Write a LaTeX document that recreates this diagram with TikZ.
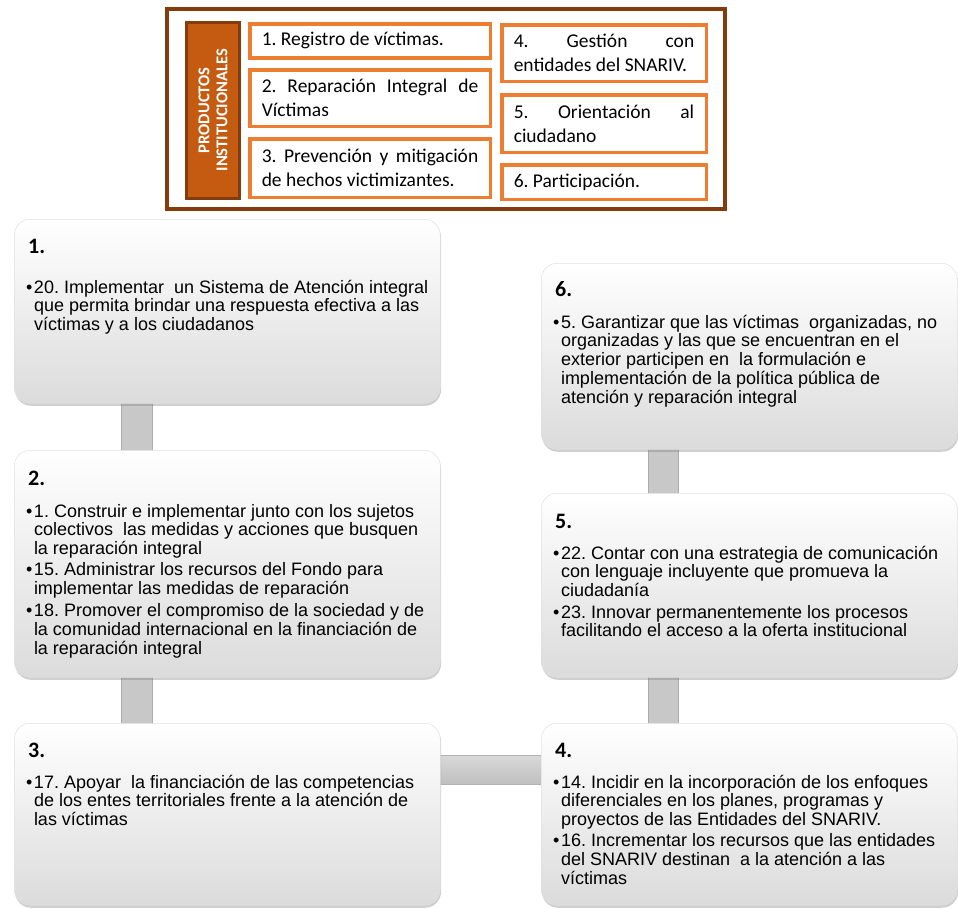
\documentclass[tikz,border=0pt]{standalone}
\usepackage{fontspec}
\setmainfont{Liberation Sans}
\newfontfamily\calfont{Carlito}
\usetikzlibrary{shadows,backgrounds}

\definecolor{frbrown}{RGB}{132,60,12}
\definecolor{porange}{RGB}{237,125,49}
\definecolor{barfill}{RGB}{197,90,17}
\definecolor{lnkgray}{RGB}{200,200,200}
\definecolor{lnkedge}{RGB}{172,172,172}

\hyphenpenalty=10000
\exhyphenpenalty=10000
\tolerance=9999
\frenchspacing

% bullet list, second lines hang under the text
\newcommand{\blist}[1]{\begin{tabular}[t]{@{}l@{\hspace{1.5pt}}l@{}}#1\end{tabular}}

\begin{document}
\begin{tikzpicture}[
  x=1pt, y=-1pt,
  pbox/.style={draw=porange, line width=3.5pt, fill=white, anchor=north west, align=justify,
    inner xsep=12pt, inner ysep=0pt, font=\calfont\fontsize{19.5}{24}\selectfont},
  lbox/.style={pbox, text width=216.5pt, minimum width=240.5pt},
  rbox/.style={pbox, text width=180.5pt, minimum width=204.5pt},
  obox/.style={rounded corners=16pt, top color=white, middle color=black!3,
    bottom color=black!14, draw=black!12, line width=0.5pt, anchor=north west,
    inner sep=0pt, drop shadow={shadow xshift=0.8pt, shadow yshift=-2.5pt, opacity=0.38}},
  ttl/.style={anchor=base west, inner sep=0pt, font=\calfont\bfseries\fontsize{22}{24}\selectfont},
  txt/.style={anchor=base west, inner sep=0pt, font=\fontsize{18}{18.5}\selectfont},
  lnk/.style={fill=lnkgray, draw=lnkedge, line width=0.8pt},
]
\useasboundingbox (0,0) rectangle (958,908);

% products frame
\node [draw=frbrown, line width=3.5pt, anchor=north west, inner sep=0pt,
  minimum width=558pt, minimum height=200pt] (frm) at (165,7) {};
\node [draw=frbrown, fill=barfill, line width=3pt, rotate=90, inner sep=0pt,
  minimum width=175.5pt, minimum height=53pt, text=white, align=center,
  font=\calfont\bfseries\fontsize{16.5}{18}\selectfont] (bar) at (213,110.25)
  {PRODUCTOS\\INSTITUCIONALES};

\node [lbox, minimum height=34pt] (p1) at (248,22) {1. Registro de víctimas.};
\node [lbox, minimum height=56.5pt] (p2) at (248,68) {2. Reparación Integral de Víctimas};
\node [lbox, minimum height=58.5pt] (p3) at (248,137) {3. Prevención y mitigación de hechos victimizantes.};
\node [rbox, minimum height=56.5pt] (p4) at (500,23) {4. Gestión con entidades del SNARIV.};
\node [rbox, minimum height=57.5pt] (p5) at (500,93) {5. Orientación al ciudadano};
\node [rbox, minimum height=34.5pt] (p6) at (500,163) {6. Participación.};

% objective boxes
\node [obox, minimum width=426pt, minimum height=184pt] (b1) at (14,219) {};
\node [obox, minimum width=426pt, minimum height=227pt] (b2) at (14,450) {};
\node [obox, minimum width=426pt, minimum height=182pt] (b3) at (14,723) {};
\node [obox, minimum width=416pt, minimum height=182pt] (b4) at (541,723) {};
\node [obox, minimum width=416pt, minimum height=184pt] (b5) at (541,493) {};
\node [obox, minimum width=416pt, minimum height=186pt] (b6) at (541,263) {};

\node [ttl] (t1) at ([shift={(14,34)}]b1.north west) {1.};
\node [txt] (l1) at ([shift={(12,74)}]b1.north west) {\blist{
  \textbullet & 20. Implementar\ \ un Sistema de Atención integral\\
  & que permita brindar una respuesta efectiva a las\\
  & víctimas y a los ciudadanos}};

\node [ttl] (t2) at ([shift={(14,35.5)}]b2.north west) {2.};
\node [txt] (l2) at ([shift={(12,67)}]b2.north west) {\blist{
  \textbullet & 1. Construir e implementar junto con los sujetos\\
  & colectivos\ \ las medidas y acciones que busquen\\
  & la reparación integral\\[3pt]
  \textbullet & 15. Administrar los recursos del Fondo para\\
  & implementar las medidas de reparación\\[3pt]
  \textbullet & 18. Promover el compromiso de la sociedad y de\\
  & la comunidad internacional en la financiación de\\
  & la reparación integral}};

\node [ttl] (t3) at ([shift={(14,34)}]b3.north west) {3.};
\node [txt] (l3) at ([shift={(12,65)}]b3.north west) {\blist{
  \textbullet & 17. Apoyar\ \ la financiación de las competencias\\
  & de los entes territoriales frente a la atención de\\
  & las víctimas}};

\node [ttl] (t4) at ([shift={(14,34)}]b4.north west) {4.};
\node [txt] (l4) at ([shift={(12,65)}]b4.north west) {\blist{
  \textbullet & 14. Incidir en la incorporación de los enfoques\\
  & diferenciales en los planes, programas y\\
  & proyectos de las Entidades del SNARIV.\\[3pt]
  \textbullet & 16. Incrementar los recursos que las entidades\\
  & del SNARIV destinan\ \ a la atención a las\\
  & víctimas}};

\node [ttl] (t5) at ([shift={(14,35)}]b5.north west) {5.};
\node [txt] (l5) at ([shift={(12,66)}]b5.north west) {\blist{
  \textbullet & 22. Contar con una estrategia de comunicación\\
  & con lenguaje incluyente que promueva la\\
  & ciudadanía\\[3pt]
  \textbullet & 23. Innovar permanentemente los procesos\\
  & facilitando el acceso a la oferta institucional}};

\node [ttl] (t6) at ([shift={(14,33)}]b6.north west) {6.};
\node [txt] (l6) at ([shift={(12,65)}]b6.north west) {\blist{
  \textbullet & 5. Garantizar que las víctimas\ \ organizadas, no\\
  & organizadas y las que se encuentran en el\\
  & exterior participen en\ \ la formulación e\\
  & implementación de la política pública de\\
  & atención y reparación integral}};

% links between the boxes
\begin{pgfonlayer}{background}
\path [lnk] ([xshift=107pt, yshift=4pt]b1.south west) rectangle ([xshift=138pt, yshift=-4pt]b2.north west);
\path [lnk] ([xshift=107pt, yshift=4pt]b2.south west) rectangle ([xshift=138pt, yshift=-4pt]b3.north west);
\path [lnk, top color=black!15, bottom color=black!25, draw=black!30]
  ([xshift=-4pt, yshift=-32pt]b3.north east) rectangle ([xshift=4pt, yshift=-61pt]b4.north west);
\path [lnk] ([xshift=107pt, yshift=-4pt]b4.north west) rectangle ([xshift=137pt, yshift=4pt]b5.south west);
\path [lnk] ([xshift=107pt, yshift=-4pt]b5.north west) rectangle ([xshift=137pt, yshift=4pt]b6.south west);
\end{pgfonlayer}
\end{tikzpicture}
\end{document}
